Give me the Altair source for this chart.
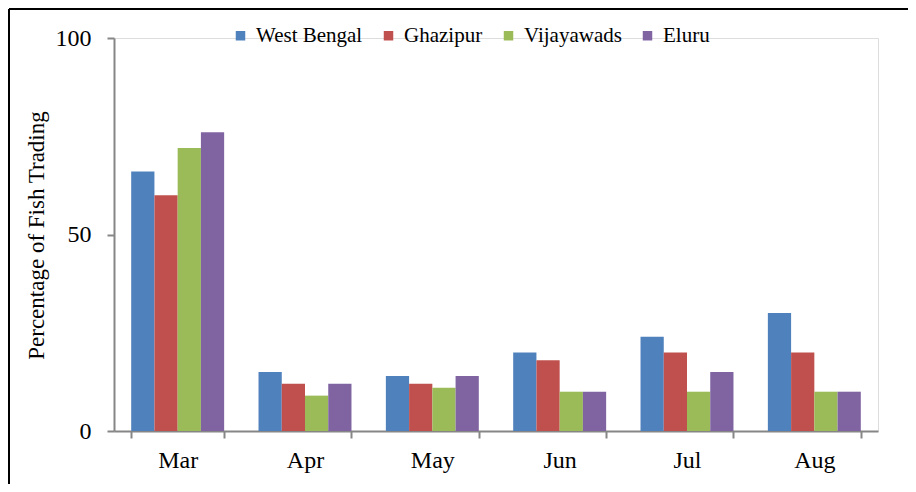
import altair as alt
import pandas as pd

months = ["Mar", "Apr", "May", "Jun", "Jul", "Aug"]
regions = ["West Bengal", "Ghazipur", "Vijayawads", "Eluru"]
west_bengal = [66, 15, 14, 20, 24, 30]
ghazipur = [60, 12, 12, 18, 20, 20]
vijayawads = [72, 9, 11, 10, 10, 10]
eluru = [76, 12, 14, 10, 15, 10]
colors = ["#4F81BD", "#C0504D", "#9BBB59", "#8064A2"]
y_ticks = [0, 50, 100]

rows = []
for reg, vals in zip(regions, [west_bengal, ghazipur, vijayawads, eluru]):
    for m, v in zip(months, vals):
        rows.append({"Month": m, "Region": reg, "Value": v})
df = pd.DataFrame(rows)

FONT = "Liberation Serif"
AX = "#868686"
W, H = 764, 393

bars = alt.Chart(df).mark_bar().encode(
    x=alt.X("Month:N", sort=months,
            scale=alt.Scale(paddingInner=0.27, paddingOuter=0.135),
            axis=alt.Axis(title=None, labelAngle=0, tickBand="extent",
                          tickSize=7, labelPadding=10, labelFontSize=24,
                          labelFont=FONT, labelColor="black",
                          domainColor=AX, tickColor=AX, domainWidth=2, tickWidth=2)),
    xOffset=alt.XOffset("Region:N", sort=regions,
                        scale=alt.Scale(paddingInner=0, paddingOuter=0)),
    y=alt.Y("Value:Q", scale=alt.Scale(domain=[0, 100], nice=False),
            axis=alt.Axis(values=y_ticks, grid=False, tickSize=7, labelPadding=16,
                          labelFontSize=24, labelFont=FONT, labelColor="black",
                          domainColor=AX, tickColor=AX, domainWidth=2, tickWidth=2,
                          title="Percentage of Fish Trading",
                          titleFont=FONT, titleColor="black",
                          titleFontSize=23, titleFontWeight="normal",
                          titleX=-71, titleY=197, titleAngle=-90,
                          titleAlign="center", titleBaseline="alphabetic")),
    color=alt.Color("Region:N", sort=regions,
                    scale=alt.Scale(domain=regions, range=colors),
                    legend=alt.Legend(title=None, orient="none", legendX=116, legendY=-13,
                                      direction="horizontal", symbolType="square",
                                      symbolSize=90, symbolStrokeWidth=0,
                                      labelFontSize=21, labelFont=FONT, labelOffset=5,
                                      columnPadding=15, labelColor="black")),
)

one = alt.Data(values=[{"a": 1}])
frame_left = alt.Chart(one).mark_rule(color="black", strokeWidth=2).encode(
    x=alt.value(-105), y=alt.value(-29), y2=alt.value(450))
frame_top = alt.Chart(one).mark_rule(color="black", strokeWidth=2).encode(
    x=alt.value(-105), x2=alt.value(800), y=alt.value(-29))

chart = alt.layer(bars, frame_left, frame_top).properties(
    width=W, height=H,
    autosize=alt.AutoSizeParams(type="none"),
    padding={"left": 106, "top": 30, "right": 30, "bottom": 53},
).configure_view(stroke=None).configure(background="white")

chart.save("out.html", embed_options={"renderer": "svg", "actions": False})
